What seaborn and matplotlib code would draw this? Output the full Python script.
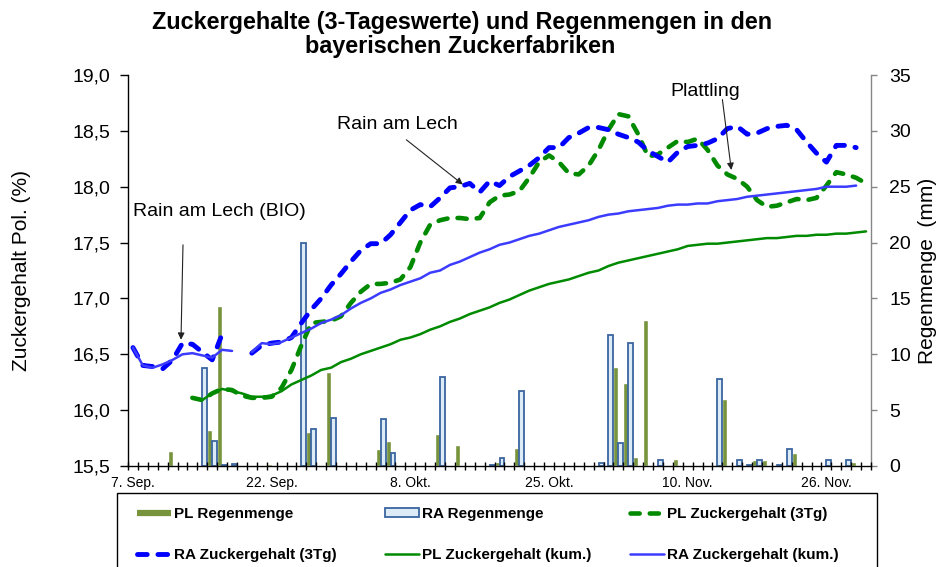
#!/usr/bin/env python3
"""Zuckergehalte (3-Tageswerte) und Regenmengen in den bayerischen Zuckerfabriken."""

import numpy as np
import pandas as pd
import matplotlib
matplotlib.use("Agg")
import matplotlib.pyplot as plt
from matplotlib.lines import Line2D
from matplotlib.patches import Patch, Rectangle
from matplotlib.ticker import FixedLocator, FuncFormatter
import seaborn as sns

nan = np.nan

# Kategorien-Achse: 75 Tage, beschriftet wird jede 14. Kategorie
n_days = 75
tick_pos = [0, 14, 28, 42, 56, 70]
tick_labels = ["7. Sep.", "22. Sep.", "8. Okt.", "25. Okt.", "10. Nov.", "26. Nov."]

# Regenmengen (mm)
pl_rain = [0, 0, 0, 0, 1.35, 0, 0, 0, 3.2, 14.3,
           0, 0, 0, 0, 0.2, 0, 0, 0, 3.0, 0,
           8.4, 0, 0, 0, 0, 1.5, 2.2, 0, 0, 0,
           0, 2.9, 0.1, 1.9, 0, 0, 0, 0.4, 0, 1.6,
           0.1, 0, 0, 0, 0, 0, 0, 0, 0, 8.9,
           7.4, 0.8, 13.1, 0, 0, 0.6, 0, 0, 0, 0,
           6.0, 0, 0, 0.5, 0.5, 0, 0, 1.2, 0, 0,
           0, 0, 0, 0.4, 0]
ra_rain = [0, 0, 0, 0, 0, 0, 0, 8.8, 2.2, 0.1,
           0.15, 0, 0, 0, 0, 0, 0, 20.0, 3.3, 0,
           4.3, 0, 0, 0, 0, 4.2, 1.2, 0, 0, 0,
           0, 8.0, 0, 0, 0, 0, 0.1, 0.7, 0, 6.7,
           0, 0, 0, 0, 0, 0, 0, 0.3, 11.7, 2.1,
           11.0, 0, 0, 0.5, 0, 0, 0, 0, 0, 7.8,
           0, 0.5, 0.1, 0.5, 0, 0.1, 1.5, 0, 0, 0,
           0.5, 0, 0.5, 0, 0]

# Zuckergehalt Pol. (%)
pl_3tg = [nan, nan, nan, nan, nan, nan, 16.11, 16.09, 16.15, 16.19,
          16.18, 16.13, 16.11, 16.11, 16.12, 16.20, 16.36, 16.58, 16.78, 16.79,
          16.80, 16.84, 16.96, 17.06, 17.13, 17.13, 17.14, 17.17, 17.28, 17.50,
          17.66, 17.70, 17.72, 17.72, 17.71, 17.72, 17.86, 17.92, 17.93, 17.96,
          18.08, 18.22, 18.28, 18.22, 18.12, 18.11, 18.19, 18.33, 18.51, 18.65,
          18.63, 18.47, 18.27, 18.29, 18.35, 18.41, 18.40, 18.43, 18.33, 18.19,
          18.11, 18.07, 18.00, 17.88, 17.82, 17.83, 17.86, 17.89, 17.88, 17.90,
          18.01, 18.13, 18.11, 18.08, 18.03]
ra_3tg = [16.56, 16.40, 16.39, 16.37, 16.45, 16.60, 16.59, 16.52, 16.45, 16.68,
          nan, nan, 16.51, 16.58, 16.60, 16.61, 16.65, 16.78, 16.90, 17.00,
          17.12, 17.22, 17.33, 17.43, 17.49, 17.49, 17.57, 17.68, 17.79, 17.84,
          17.82, 17.90, 17.99, 18.00, 18.03, 17.95, 18.05, 18.01, 18.09, 18.14,
          18.19, 18.26, 18.35, 18.35, 18.44, 18.48, 18.53, 18.53, 18.51, 18.47,
          18.44, 18.40, 18.32, 18.27, 18.22, 18.31, 18.36, 18.37, 18.39, 18.43,
          18.52, 18.54, 18.47, 18.48, 18.52, 18.54, 18.55, 18.51, 18.40, 18.30,
          18.22, 18.37, 18.37, 18.35, nan]
pl_kum = [nan, nan, nan, nan, nan, nan, 16.11, 16.09, 16.15, 16.19,
          16.17, 16.15, 16.12, 16.12, 16.13, 16.17, 16.23, 16.27, 16.31, 16.36,
          16.38, 16.43, 16.46, 16.50, 16.53, 16.56, 16.59, 16.63, 16.65, 16.68,
          16.72, 16.75, 16.79, 16.82, 16.86, 16.89, 16.92, 16.96, 16.99, 17.03,
          17.07, 17.10, 17.13, 17.15, 17.17, 17.20, 17.23, 17.25, 17.29, 17.32,
          17.34, 17.36, 17.38, 17.40, 17.42, 17.44, 17.47, 17.48, 17.49, 17.49,
          17.50, 17.51, 17.52, 17.53, 17.54, 17.54, 17.55, 17.56, 17.56, 17.57,
          17.57, 17.58, 17.58, 17.59, 17.60]
ra_kum = [16.56, 16.40, 16.38, 16.41, 16.45, 16.50, 16.51, 16.49, 16.47, 16.54,
          16.53, nan, 16.52, 16.60, 16.59, 16.61, 16.65, 16.69, 16.73, 16.78,
          16.81, 16.85, 16.91, 16.96, 17.00, 17.05, 17.08, 17.12, 17.15, 17.18,
          17.23, 17.25, 17.30, 17.33, 17.37, 17.41, 17.44, 17.48, 17.50, 17.53,
          17.56, 17.58, 17.61, 17.64, 17.66, 17.68, 17.70, 17.73, 17.75, 17.76,
          17.78, 17.79, 17.80, 17.81, 17.83, 17.84, 17.84, 17.85, 17.85, 17.87,
          17.88, 17.89, 17.91, 17.92, 17.93, 17.94, 17.95, 17.96, 17.97, 17.98,
          18.00, 18.00, 18.00, 18.01, nan]

OLIVE = "#77933C"
RA_FILL = "#DCEBF5"
RA_EDGE = "#3A65A0"
GREEN = "#008A00"
BLUE = "#0000FF"
BLUE_KUM = "#3C3CFF"

sns.set_style("white")
plt.rcParams["font.family"] = ["Liberation Sans", "DejaVu Sans"]
plt.rcParams.update({"text.color": "black", "axes.labelcolor": "black",
                     "xtick.color": "black", "ytick.color": "black"})


def draw_line(ax, values, **kws):
    """Draw a series with sns.lineplot, leaving gaps where values are missing."""
    s = pd.Series(values, dtype=float)
    df = pd.DataFrame({"pos": np.arange(len(s)), "val": s, "seg": s.isna().cumsum()})
    df = df.dropna()
    for _, part in df.groupby("seg"):
        sns.lineplot(data=part, x="pos", y="val", ax=ax, estimator=None,
                     errorbar=None, legend=False, **kws)


fig = plt.figure(figsize=(9.4, 5.67), dpi=100)
ax1 = fig.add_axes([128 / 940, 1 - 466 / 567, 743 / 940, 391 / 567])
ax2 = ax1.twinx()

# bars (right axis)
rain = pd.DataFrame({
    "pos": list(range(n_days)) * 2,
    "rain": pl_rain + ra_rain,
    "station": ["PL"] * n_days + ["RA"] * n_days,
})
rain = rain[rain["rain"] > 0]
sns.barplot(data=rain, x="pos", y="rain", hue="station", hue_order=["PL", "RA"],
            order=list(range(n_days)), palette={"PL": OLIVE, "RA": RA_FILL},
            saturation=1, width=1.0, errorbar=None, legend=False, ax=ax2)
for bar in ax2.patches:
    if np.allclose(bar.get_facecolor()[:3], matplotlib.colors.to_rgb(RA_FILL)):
        bar.set_edgecolor(RA_EDGE)
        bar.set_linewidth(1.3)

# lines (left axis)
dash = (0, (2.0, 2.2))
draw_line(ax1, pl_3tg, color=GREEN, lw=3.3, linestyle=dash, dash_capstyle="round")
draw_line(ax1, ra_3tg, color=BLUE, lw=3.5, linestyle=dash, dash_capstyle="round")
draw_line(ax1, pl_kum, color=GREEN, lw=1.8)
draw_line(ax1, ra_kum, color=BLUE_KUM, lw=1.8)

# put lines above bars
ax1.set_zorder(ax2.get_zorder() + 1)
ax1.patch.set_visible(False)

ax1.set_xlim(-0.5, n_days - 0.5)
ax1.set_ylim(15.5, 19.0)
ax2.set_ylim(0, 35)

ax1.xaxis.set_major_locator(FixedLocator(tick_pos))
ax1.set_xticklabels(tick_labels)
ax1.xaxis.set_minor_locator(FixedLocator(np.arange(-0.5, n_days, 1)))
ax1.tick_params(axis="x", which="major", length=0, pad=7, labelsize=10)
ax1.tick_params(axis="x", which="minor", direction="inout", length=6, width=1,
                color="black", bottom=True)

ax1.set_yticks(np.arange(15.5, 19.01, 0.5))
ax1.yaxis.set_major_formatter(FuncFormatter(lambda v, p: f"{v:.1f}".replace(".", ",")))
ax1.tick_params(axis="y", direction="out", length=5.5, width=1, color="black",
                pad=7, labelsize=14, left=True)
ax2.set_yticks(np.arange(0, 36, 5))
ax2.tick_params(axis="y", direction="out", length=4, width=1, color="#868686",
                labelcolor="black", pad=9, labelsize=14, right=True)

ax1.set_xlabel("")
ax1.set_ylabel("Zuckergehalt Pol. (%)", fontsize=15)
ax1.yaxis.set_label_coords((31 - 128) / 743, 0.5)
ax2.set_ylabel("Regenmenge  (mm)", fontsize=15)
ax2.yaxis.set_label_coords((918 - 128) / 743, 0.5)

for side in ["top", "right"]:
    ax1.spines[side].set_visible(False)
for side in ["left", "bottom"]:
    ax1.spines[side].set_color("black")
    ax1.spines[side].set_linewidth(1)
for side in ["top", "left", "bottom"]:
    ax2.spines[side].set_visible(False)
ax2.spines["right"].set_color("#868686")
ax2.spines["right"].set_linewidth(1)

# annotations
ax1.text(0, 17.78, "Rain am Lech (BIO)", fontsize=14, va="center", ha="left")
ax1.text(20.6, 18.56, "Rain am Lech", fontsize=14, va="center", ha="left")
ax1.text(54.2, 18.85, "Plattling", fontsize=14, va="center", ha="left")
arrow = dict(arrowstyle="-|>", color="#222222", lw=0.8, mutation_scale=10,
             shrinkA=0, shrinkB=0)
ax1.annotate("", xy=(4.85, 16.63), xytext=(5.05, 17.48), arrowprops=arrow)
ax1.annotate("", xy=(33.3, 18.02), xytext=(27.6, 18.42), arrowprops=arrow)
ax1.annotate("", xy=(60.4, 18.15), xytext=(59.5, 18.78), arrowprops=arrow)

# title
fig.text(462 / 940, 1 - 22 / 567, "Zuckergehalte (3-Tageswerte) und Regenmengen in den",
         ha="center", va="center", fontsize=16.8, fontweight="bold")
fig.text(460 / 940, 1 - 47 / 567, "bayerischen Zuckerfabriken",
         ha="center", va="center", fontsize=16.8, fontweight="bold")

# legend: three columns placed by hand, one frame around them
row1 = [
    (Line2D([], [], color=OLIVE, lw=4.5, solid_capstyle="butt"), "PL Regenmenge"),
    (Patch(facecolor=RA_FILL, edgecolor=RA_EDGE, lw=1.3), "RA Regenmenge"),
    (Line2D([], [], color=GREEN, lw=3.3, linestyle=dash, dash_capstyle="round"),
     "PL Zuckergehalt (3Tg)"),
]
row2 = [
    (Line2D([], [], color=BLUE, lw=3.5, linestyle=dash, dash_capstyle="round"),
     "RA Zuckergehalt (3Tg)"),
    (Line2D([], [], color=GREEN, lw=1.8), "PL Zuckergehalt (kum.)"),
    (Line2D([], [], color=BLUE_KUM, lw=1.8), "RA Zuckergehalt (kum.)"),
]
col_x = [137, 385, 630]
for k in range(3):
    fig.legend([row1[k][0], row2[k][0]], [row1[k][1], row2[k][1]],
               loc="upper left", bbox_to_anchor=(col_x[k] / 940, 1 - 507 / 567),
               frameon=False, borderpad=0, borderaxespad=0, handlelength=2.2,
               handleheight=0.55, handletextpad=0.25, labelspacing=1.78,
               prop=dict(weight="bold", size=11))
fig.patches.append(Rectangle((117 / 940, -0.05), (877 - 117) / 940, 1.05 - 493 / 567,
                             transform=fig.transFigure, fill=False,
                             edgecolor="black", lw=1))

fig.savefig("out.png", dpi=100)
